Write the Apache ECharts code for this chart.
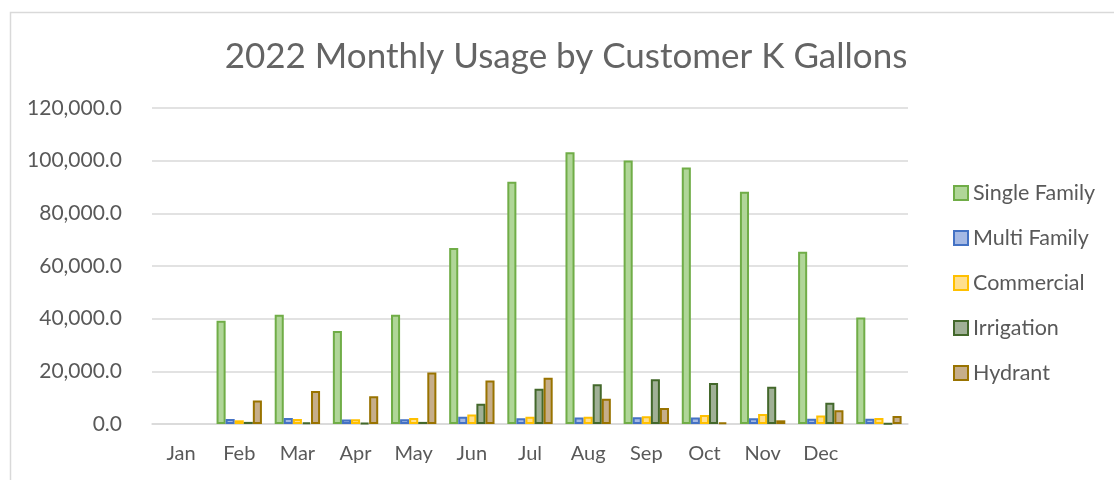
<!DOCTYPE html>
<html>
<head>
<meta charset="utf-8">
<script src="https://cdn.jsdelivr.net/npm/echarts@6/dist/echarts.min.js"></script>
<style>
html,body{margin:0;padding:0;background:#fff;}
#chart{width:1114px;height:480px;}
</style>
</head>
<body>
<div id="chart"></div>
<script>
var categories = ['Jan','Feb','Mar','Apr','May','Jun','Jul','Aug','Sep','Oct','Nov','Dec',''];
var singleFamily = [null, 39200, 41500, 35300, 41500, 66800, 92000, 103200, 100100, 97400, 88200, 65400, 40400];
var multiFamily  = [null, 1900, 2300, 1700, 1800, 2800, 2200, 2500, 2600, 2500, 2200, 2000, 2000];
var commercial   = [null, 1400, 1900, 1800, 2300, 3600, 2800, 2800, 2900, 3400, 3800, 3200, 2300];
var irrigation   = [null, 800, 600, 400, 800, 7700, 13400, 15100, 17000, 15600, 14100, 8100, 100];
var hydrant      = [null, 8900, 12500, 10500, 19600, 16500, 17600, 9600, 6100, 600, 1400, 5200, 3000];
var yTicks = [0, 20000, 40000, 60000, 80000, 100000, 120000];

var chart = echarts.init(document.getElementById('chart'));
var FONT = 'Lato';
var TXT = '#595959';
function fmt(v){
  return Number(v).toLocaleString('en-US',{minimumFractionDigits:1,maximumFractionDigits:1});
}
function mk(name, data, fill, border){
  return {
    name: name, type: 'bar', data: data,
    barGap: '0%', barCategoryGap: '22%',
    itemStyle: {color: fill, borderColor: border, borderWidth: 2},
    emphasis: {disabled: true}
  };
}
chart.setOption({
  animation: false,
  backgroundColor: '#fff',
  graphic: [{
    type: 'rect', left: 8, top: 10, shape: {width: 1200, height: 600},
    style: {fill: 'none', stroke: '#d9d9d9', lineWidth: 1.5}, silent: true, z: -1
  }],
  title: {
    text: '2022 Monthly Usage by Customer K Gallons',
    left: 561, top: 34, textAlign: 'center',
    textStyle: {fontFamily: FONT, fontSize: 35, fontWeight: 'normal', color: '#646464'}
  },
  legend: {
    orient: 'vertical', left: 948, top: 177,
    itemWidth: 14, itemHeight: 14, itemGap: 23,
    icon: 'rect',
    textStyle: {fontFamily: FONT, fontSize: 21.5, color: TXT, padding: [0,0,0,0]},
    data: ['Single Family','Multi Family','Commercial','Irrigation','Hydrant']
  },
  grid: {left: 152, right: 206, top: 108, bottom: 56, containLabel: false},
  xAxis: {
    type: 'category', data: categories,
    axisLine: {lineStyle: {color: '#d9d9d9', width: 1.5}},
    axisTick: {show: false},
    axisLabel: {fontFamily: FONT, fontSize: 20, color: TXT, margin: 20, interval: 0}
  },
  yAxis: {
    type: 'value', min: yTicks[0], max: yTicks[yTicks.length-1], interval: 20000,
    axisLine: {show: false}, axisTick: {show: false},
    splitLine: {lineStyle: {color: '#d9d9d9', width: 1.5}},
    axisLabel: {fontFamily: FONT, fontSize: 21, color: TXT, margin: 30, formatter: fmt}
  },
  series: [
    mk('Single Family', singleFamily, '#b0d698', '#70ad47'),
    mk('Multi Family', multiFamily, '#a5b9e4', '#4472c4'),
    mk('Commercial', commercial, '#ffdf8e', '#ffc000'),
    mk('Irrigation', irrigation, '#a0b096', '#43682b'),
    mk('Hydrant', hydrant, '#c6ae8a', '#997300')
  ]
});
</script>
</body>
</html>
